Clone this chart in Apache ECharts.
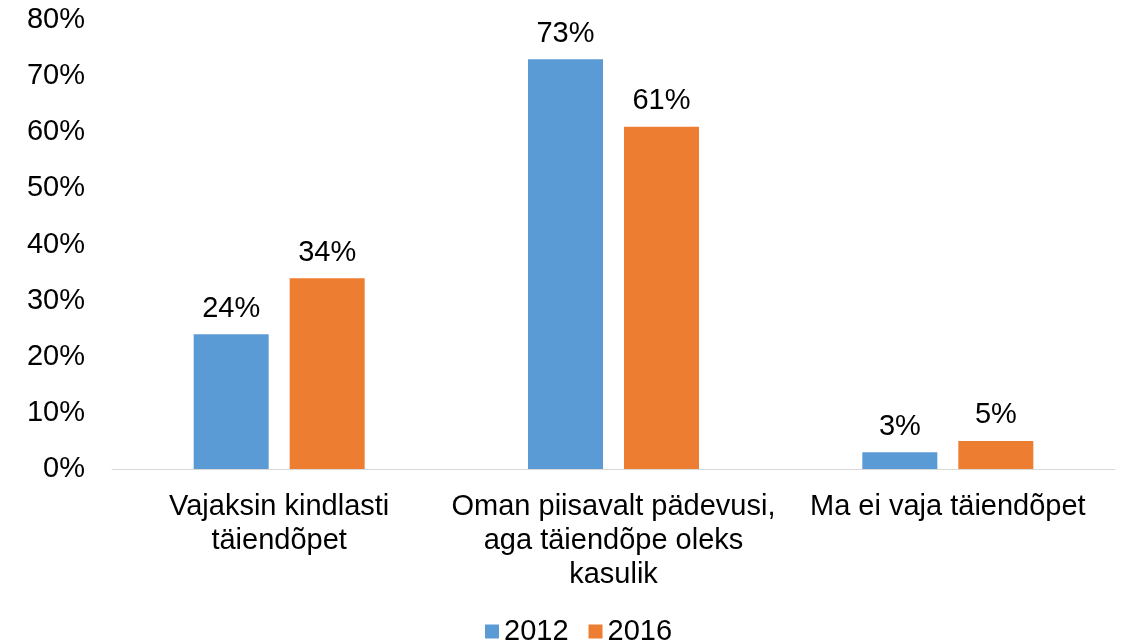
<!DOCTYPE html>
<html>
<head>
<meta charset="utf-8">
<script src="https://cdn.jsdelivr.net/npm/echarts@6/dist/echarts.min.js"></script>
<style>
html, body { margin: 0; padding: 0; background: #fff; }
#chart { width: 1125px; height: 643px; }
</style>
</head>
<body>
<div id="chart"></div>
<script>
var categories = ['Vajaksin kindlasti\ntäiendõpet', 'Oman piisavalt pädevusi,\naga täiendõpe oleks\nkasulik', 'Ma ei vaja täiendõpet'];
var values2012 = [24, 73, 3];
var values2016 = [34, 61, 5];
var yTicks = [0, 80, 10];

var font = 'Liberation Sans, Arial, sans-serif';
var fs = 29;
var myChart = echarts.init(document.getElementById('chart'));
var labelStyle = {
    show: true,
    position: 'top',
    distance: 11,
    color: '#000',
    fontSize: fs,
    fontFamily: font,
    formatter: '{c}%'
};
option = {
    animation: false,
    grid: { left: 112, right: 10, top: 20, bottom: 174, containLabel: false },
    legend: {
        top: 612,
        left: 480,
        itemWidth: 14,
        itemHeight: 14,
        itemGap: 20,
        icon: 'rect',
        textStyle: { fontSize: fs, color: '#000', fontFamily: font },
        data: ['2012', '2016']
    },
    xAxis: {
        type: 'category',
        data: categories,
        axisLine: { lineStyle: { color: '#d9d9d9', width: 1 } },
        axisTick: { show: false },
        axisLabel: {
            color: '#000',
            fontSize: fs,
            fontFamily: font,
            lineHeight: 34,
            margin: 21,
            interval: 0
        }
    },
    yAxis: {
        type: 'value',
        min: yTicks[0],
        max: yTicks[1],
        interval: yTicks[2],
        splitLine: { show: false },
        axisLine: { show: false },
        axisTick: { show: false },
        axisLabel: {
            color: '#000',
            fontSize: fs,
            fontFamily: font,
            margin: 27,
            formatter: '{value}%'
        }
    },
    series: [
        {
            name: '2012',
            type: 'bar',
            data: values2012,
            barWidth: 75,
            barGap: '28%',
            itemStyle: { color: '#5b9bd5' },
            label: labelStyle
        },
        {
            name: '2016',
            type: 'bar',
            data: values2016,
            barWidth: 75,
            barGap: '28%',
            itemStyle: { color: '#ed7d31' },
            label: labelStyle
        }
    ]
};
myChart.setOption(option);
</script>
</body>
</html>
